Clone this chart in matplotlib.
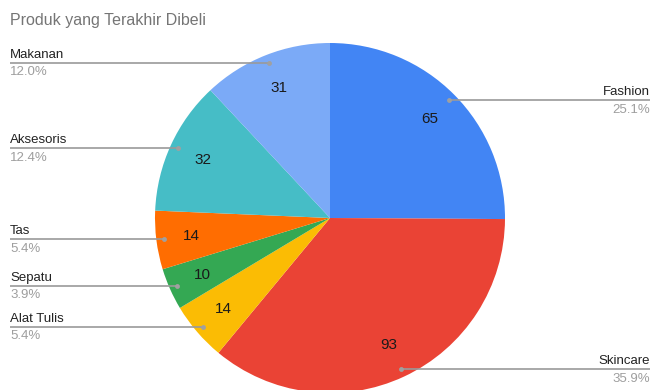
import numpy as np
import matplotlib
matplotlib.use("Agg")
import matplotlib.pyplot as plt

plt.rcParams['font.family'] = ['Liberation Sans', 'DejaVu Sans']

title = "Produk yang Terakhir Dibeli"
categories = ["Fashion", "Skincare", "Alat Tulis", "Sepatu", "Tas", "Aksesoris", "Makanan"]
values = [65, 93, 14, 10, 14, 32, 31]
colors = ["#4285F4", "#EA4335", "#FBBC04", "#34A853", "#FF6D01", "#46BDC6", "#7BAAF7"]

W, H = 652, 390
fig = plt.figure(figsize=(W / 100, H / 100), dpi=100)
ax = fig.add_axes([0, 0, 1, 1])
ax.set_xlim(0, W)
ax.set_ylim(0, H)
ax.set_aspect('equal')
ax.axis('off')

cx, cy, R = 330, H - 218, 175
wedges, _ = ax.pie(values, colors=colors, startangle=90, counterclock=False,
                   center=(cx, cy), radius=R, frame=True,
                   wedgeprops=dict(linewidth=0))
ax.set_xlim(0, W)
ax.set_ylim(0, H)
ax.axis('off')

total = sum(values)
line_col = "#9a9a9a"
for w, name, v in zip(wedges, categories, values):
    mid = np.deg2rad((w.theta1 + w.theta2) / 2)
    # value label inside the slice
    ax.text(cx + 0.8 * R * np.cos(mid), cy + 0.8 * R * np.sin(mid), f"{v}",
            ha='center', va='center', fontsize=11, color="#1a1a1a")
    # leader line with dot
    dx, dy = cx + 0.955 * R * np.cos(mid), cy + 0.955 * R * np.sin(mid)
    right = np.cos(mid) > 0
    x_end = 650 if right else 10
    ax.plot([dx, x_end], [dy, dy], color=line_col, lw=1.2, solid_capstyle='butt', zorder=3)
    ax.plot([dx], [dy], 'o', color="#a0a0a0", ms=3.5, mec='none', zorder=4)
    ha = 'right' if right else 'left'
    ax.text(x_end, dy + 8, name, ha=ha, va='center', fontsize=9.5, color="#222222")
    ax.text(x_end, dy - 9.5, f"{v / total * 100:.1f}%", ha=ha, va='center',
            fontsize=9.5, color="#9e9e9e")

ax.text(10, H - 20, title, ha='left', va='center', fontsize=11.5, color="#757575")

fig.savefig("out.png", dpi=100)
